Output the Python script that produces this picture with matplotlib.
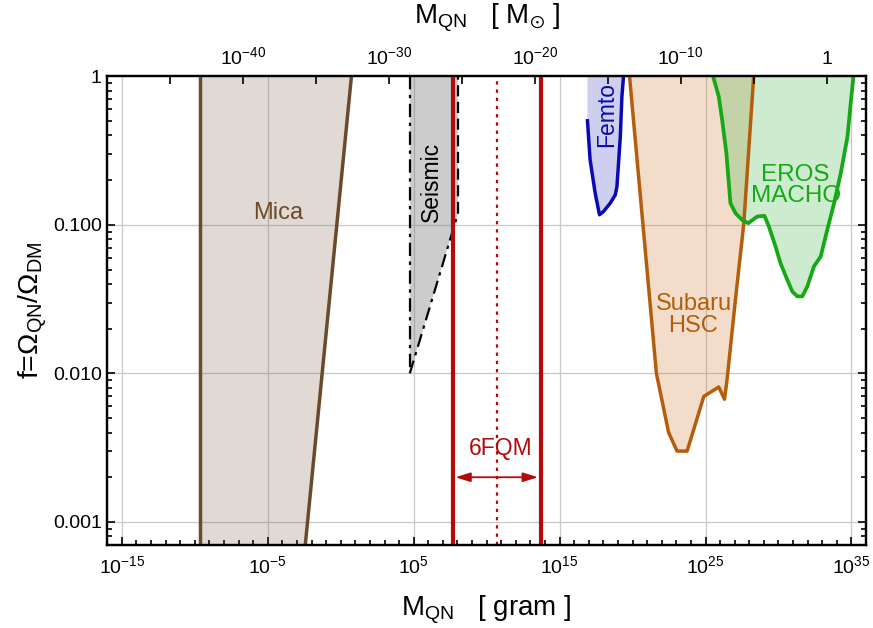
import numpy as np
import matplotlib
matplotlib.use('Agg')
import matplotlib.pyplot as plt
from matplotlib.ticker import FixedLocator, FixedFormatter, NullFormatter

plt.rcParams['font.family'] = ['Liberation Sans', 'DejaVu Sans']
plt.rcParams['mathtext.fontset'] = 'custom'
plt.rcParams['mathtext.rm'] = 'Liberation Sans'
plt.rcParams['mathtext.it'] = 'Liberation Sans:italic'
plt.rcParams['mathtext.default'] = 'regular'

MSUN_G = 1.989e33

# ---------------- data ----------------
mica_left_mass = [2.4e-10, 2.4e-10]
mica_left_f = [1.0, 7e-4]
mica_right_mass = [5.4, 3.7e-3]
mica_right_f = [1.0, 7e-4]

seismic_left_mass = [5.4e4, 5.4e4]
seismic_left_f = [1.0, 0.01]
seismic_slant_mass = [5.4e4, 1.1e8]
seismic_slant_f = [0.01, 0.12]
seismic_right_mass = [1.1e8, 1.1e8]
seismic_right_f = [0.12, 1.0]

fqm_bounds = [4.6e7, 5.1e13]
fqm_center = 5.1e10
fqm_arrow_f = 0.002

femto_mass = [8.1e16, 1.23e17, 2.75e17, 5.4e17, 1.02e18, 2.95e18, 6.5e18, 8.5e18, 1.45e19, 1.86e19, 2.4e19]
femto_f = [0.502, 0.274, 0.163, 0.117, 0.123, 0.140, 0.159, 0.181, 0.393, 0.73, 1.0]

subaru_mass = [6.2e19, 4.3e21, 2.95e22, 1.12e23, 5.5e23, 7.6e24, 8.1e25, 2.0e26, 3.0e26, 1.12e27, 4.2e27, 2.0e28]
subaru_f = [1.0, 0.010, 0.0040, 0.0030, 0.0030, 0.0070, 0.0081, 0.0067, 0.0091, 0.0313, 0.102, 1.0]

eros_mass = [3.3e25, 8.1e25, 1.38e26, 2.7e26, 5.1e26, 1.12e27, 3.2e27, 8.5e27, 3.5e28, 1.1e29,
             2.2e29, 6.3e29, 1.38e30, 4.0e30, 8.9e30, 1.95e31, 4.3e31, 9.5e31, 2.7e32, 7.8e32,
             2.2e33, 6.5e33, 1.86e34, 5.4e34, 8.9e34, 1.38e35]
eros_f = [1.0, 0.73, 0.508, 0.303, 0.140, 0.120, 0.108, 0.1026, 0.1138, 0.115,
          0.0975, 0.0714, 0.0552, 0.0427, 0.0356, 0.033, 0.033, 0.0385, 0.0525, 0.0612,
          0.0925, 0.140, 0.223, 0.393, 0.658, 1.0]

x_ticks = [1e-15, 1e-5, 1e5, 1e15, 1e25, 1e35]
x_ticklabels = [r'$10^{-15}$', r'$10^{-5}$', r'$10^{5}$', r'$10^{15}$', r'$10^{25}$', r'$10^{35}$']
y_ticks = [0.001, 0.01, 0.1, 1.0]
y_ticklabels = ['0.001', '0.010', '0.100', '1']
top_ticks = [1e-40, 1e-30, 1e-20, 1e-10, 1.0]
top_ticklabels = [r'$10^{-40}$', r'$10^{-30}$', r'$10^{-20}$', r'$10^{-10}$', '1']
top_minor = [1e-45, 1e-35, 1e-25, 1e-15, 1e-5]

# ---------------- colours ----------------
c_mica = '#6b4a2b'
c_red = '#b30a0a'
c_femto = '#0a0ab0'
c_subaru = '#b35e0c'
c_subaru_fill = '#d2782d'
c_eros = '#16a816'
c_eros_fill = '#3bb33f'

fig = plt.figure(figsize=(8.73, 6.28), dpi=100)
ax = fig.add_axes([0.1229, 0.1322, 0.8691, 0.7463])
ax.set_xscale('log')
ax.set_yscale('log')
ax.set_xlim(1e-16, 1e36)
ax.set_ylim(7e-4, 1.0)
ax.set_axisbelow(True)

# grid
for xv in x_ticks:
    ax.axvline(xv, color='#c8c8c8', lw=0.9, zorder=0)
for yv in y_ticks[:-1]:
    ax.axhline(yv, color='#c8c8c8', lw=0.9, zorder=0)

# Mica
ax.fill_betweenx(mica_left_f, mica_left_mass, mica_right_mass, color=c_mica, alpha=0.2, lw=0, zorder=1)
ax.plot(mica_left_mass, mica_left_f, color=c_mica, lw=2.5, zorder=3, solid_capstyle='butt')
ax.plot(mica_right_mass, mica_right_f, color=c_mica, lw=2.5, zorder=3, solid_capstyle='butt')

# Seismic
seis_x = seismic_left_mass + seismic_slant_mass[1:] + seismic_right_mass[1:]
seis_y = seismic_left_f + seismic_slant_f[1:] + seismic_right_f[1:]
ax.fill(seis_x, seis_y, color='#808080', alpha=0.4, lw=0, zorder=1)
ax.plot(seismic_left_mass, seismic_left_f, color='k', lw=1.6, ls=(0, (6, 2.5, 1.5, 2.5)), zorder=3)
ax.plot(seismic_slant_mass, seismic_slant_f, color='k', lw=1.6, ls=(0, (6, 2.5, 1.5, 2.5)), zorder=3)
ax.plot(seismic_right_mass, seismic_right_f, color='k', lw=1.6, ls=(0, (5, 2.5)), zorder=3)

# Femto
fx = [femto_mass[0]] + femto_mass + [femto_mass[-1]]
fy = [1.0] + femto_f + [1.0]
ax.fill(fx, fy, color=c_femto, alpha=0.2, lw=0, zorder=1)
ax.plot(femto_mass, femto_f, color=c_femto, lw=2.5, zorder=3)

# Subaru HSC
ax.fill(subaru_mass, subaru_f, color=c_subaru_fill, alpha=0.25, lw=0, zorder=1)
ax.plot(subaru_mass, subaru_f, color=c_subaru, lw=2.5, zorder=3)

# EROS / MACHO
ax.fill(eros_mass, eros_f, color=c_eros_fill, alpha=0.25, lw=0, zorder=1.5)
ax.plot(eros_mass, eros_f, color=c_eros, lw=2.7, zorder=3)

# 6FQM
for xv in fqm_bounds:
    ax.axvline(xv, color=c_red, lw=3.0, zorder=4)
ax.axvline(fqm_center, color=c_red, lw=1.6, ls=(0, (1.5, 2.2)), zorder=4)
ax.annotate('', xy=(fqm_bounds[1], fqm_arrow_f), xytext=(fqm_bounds[0], fqm_arrow_f),
            arrowprops=dict(arrowstyle='<|-|>,head_length=0.9,head_width=0.28', color=c_red,
                            lw=1.3, shrinkA=2, shrinkB=2, mutation_scale=10), zorder=5)
ax.text(8.5e10, 0.0031, '6FQM', color=c_red, fontsize=16.5, ha='center', va='center', zorder=5)

# labels in plot
ax.text(5.5e-5, 0.12, 'Mica', color=c_mica, fontsize=17, ha='center', va='center', zorder=5)
ax.text(1.75e6, 0.195, 'Seismic', color='k', fontsize=16.5, ha='center', va='center', rotation=90, zorder=5)
ax.text(1.75e18, 0.557, 'Femto', color=c_femto, fontsize=16.5, ha='center', va='center', rotation=90, zorder=5)
ax.text(1.5e24, 0.0246, 'Subaru\nHSC', color=c_subaru, fontsize=17, ha='center', va='center',
        linespacing=1.0, zorder=5)
ax.text(1.5e31, 0.183, 'EROS\nMACHO', color=c_eros, fontsize=17.5, ha='center', va='center',
        linespacing=0.95, zorder=5)

# ticks bottom/left/right
ax.xaxis.set_major_locator(FixedLocator(x_ticks))
ax.xaxis.set_major_formatter(FixedFormatter(x_ticklabels))
ax.xaxis.set_minor_locator(FixedLocator([10.0**k for k in range(-16, 37)]))
ax.xaxis.set_minor_formatter(NullFormatter())
ax.yaxis.set_major_locator(FixedLocator(y_ticks))
ax.yaxis.set_major_formatter(FixedFormatter(y_ticklabels))
ax.yaxis.set_minor_locator(FixedLocator([m * 10.0**k for k in range(-4, 0) for m in range(2, 10)]))
ax.yaxis.set_minor_formatter(NullFormatter())
ax.tick_params(which='both', direction='in', top=False, right=True, labelsize=14, width=1.2, color='k')
ax.tick_params(which='major', length=6)
ax.tick_params(which='minor', length=3.5)
ax.tick_params(axis='x', which='major', pad=7)
ax.tick_params(axis='y', which='major', pad=4)

for s in ax.spines.values():
    s.set_linewidth(1.6)

# top axis in solar masses
ax2 = ax.twiny()
ax2.set_xscale('log')
ax2.set_xlim(1e-16 / MSUN_G, 1e36 / MSUN_G)
ax2.xaxis.set_major_locator(FixedLocator(top_ticks))
ax2.xaxis.set_major_formatter(FixedFormatter(top_ticklabels))
ax2.xaxis.set_minor_locator(FixedLocator(top_minor))
ax2.xaxis.set_minor_formatter(NullFormatter())
ax2.tick_params(which='both', direction='in', length=6, width=1.2, labelsize=14, pad=6)
for s in ax2.spines.values():
    s.set_linewidth(1.6)

ax.set_xlabel(r'$M_{QN}$   [ gram ]', fontsize=20, labelpad=12)
ax2.set_xlabel(r'$M_{QN}$   [ $M_{\odot}$ ]', fontsize=20, labelpad=16)
ax.set_ylabel(r'f=$\Omega_{QN}/\Omega_{DM}$', fontsize=20.5, labelpad=3)

fig.savefig('out.png', dpi=100)
